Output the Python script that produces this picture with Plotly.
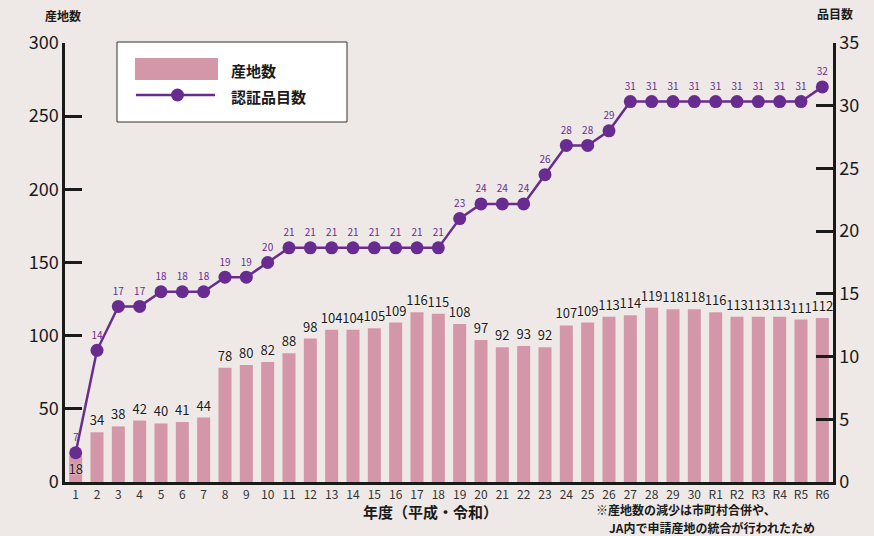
import plotly.graph_objects as go

categories = [str(i) for i in range(1, 31)] + ["R1", "R2", "R3", "R4", "R5", "R6"]
sanchi = [18, 34, 38, 42, 40, 41, 44, 78, 80, 82, 88, 98, 104, 104, 105, 109, 116, 115,
          108, 97, 92, 93, 92, 107, 109, 113, 114, 119, 118, 118, 116, 113, 113, 113, 111, 112]
hinmoku = [7, 14, 17, 17, 18, 18, 18, 19, 19, 20, 21, 21, 21, 21, 21, 21, 21, 21,
           23, 24, 24, 24, 26, 28, 28, 29, 31, 31, 31, 31, 31, 31, 31, 31, 31, 32]
left_ticks = [0, 50, 100, 150, 200, 250, 300]
right_ticks = [0, 5, 10, 15, 20, 25, 30, 35]

FONT = "Noto Sans CJK JP"
BAR_COLOR = "#d497aa"
LINE_COLOR = "#682c91"
BG = "#eee9e6"

fig = go.Figure()

fig.add_trace(go.Bar(
    x=categories, y=sanchi, name="産地数",
    marker=dict(color=BAR_COLOR, line=dict(width=0)),
    text=[str(v) for v in sanchi],
    textposition=["inside"] + ["outside"] * (len(sanchi) - 1),
    insidetextanchor="middle",
    constraintext="none",
    cliponaxis=False,
    textfont=dict(family=FONT, size=13, color="#1a1a1a", shadow="0px 0px 2px white"),
    textangle=0,
    yaxis="y",
))

fig.add_trace(go.Scatter(
    x=categories, y=hinmoku, name="認証品目数",
    mode="lines+markers+text",
    line=dict(color=LINE_COLOR, width=2.5),
    marker=dict(color=LINE_COLOR, size=13),
    text=[str(v) for v in hinmoku],
    textposition="top center",
    textfont=dict(family=FONT, size=10, color=LINE_COLOR),
    cliponaxis=False,
    yaxis="y3",
))

axis_common = dict(
    showgrid=False, zeroline=False, showline=True, linecolor="#1a1a1a", linewidth=2.5,
    ticks="inside", ticklen=17, tickwidth=2.5, tickcolor="#1a1a1a",
    tickfont=dict(family=FONT, size=18, color="#1a1a1a"),
)

fig.update_layout(
    width=874, height=536,
    margin=dict(l=65, r=41, t=43, b=54),
    paper_bgcolor=BG, plot_bgcolor=BG,
    showlegend=False,
    bargap=0.39,
    xaxis=dict(
        type="category", range=[-0.5, 35.5],
        showgrid=False, zeroline=False, showline=True, linecolor="#1a1a1a", linewidth=2.5,
        ticks="", tickfont=dict(family=FONT, size=12, color="#333333"),
        tickangle=0,
    ),
    yaxis=dict(range=[0, 300], tickvals=left_ticks, **axis_common),
    yaxis2=dict(range=[0, 35], tickvals=right_ticks, overlaying="y", side="right", **axis_common),
    yaxis3=dict(range=[5, 35], overlaying="y", visible=False),
)
# invisible trace so the right axis is drawn
fig.add_trace(go.Scatter(x=[categories[0]], y=[0], yaxis="y2", mode="markers",
                         marker=dict(opacity=0), hoverinfo="skip", showlegend=False))


def px(x):
    return (x - 65) / 768


def py(y):
    return (482 - y) / 439


ann = [
    dict(text="産地数", x=63, y=15),
    dict(text="品目数", x=835, y=14),
    dict(text="年度（平成・令和）", x=430, y=512, size=15),
]
for a in ann:
    fig.add_annotation(text=a["text"], xref="paper", yref="paper",
                       x=px(a["x"]), y=py(a["y"]),
                       xanchor="center", yanchor="middle", showarrow=False,
                       font=dict(family=FONT, size=a.get("size", 12), color="#1a1a1a", weight="bold"))

for txt, x, y in [("※産地数の減少は市町村合併や、", 595, 509.5), ("JA内で申請産地の統合が行われたため", 608, 527.3)]:
    fig.add_annotation(text=txt, xref="paper", yref="paper",
                       x=px(x), y=py(y), borderpad=0,
                       xanchor="left", yanchor="middle", showarrow=False,
                       font=dict(family=FONT, size=12, color="#1a1a1a", weight="bold"))

# legend box
fig.add_shape(type="rect", xref="paper", yref="paper", x0=px(117), x1=px(347), y0=py(122), y1=py(42),
              fillcolor="white", line=dict(color="#333333", width=1))
fig.add_shape(type="rect", xref="paper", yref="paper", x0=px(135), x1=px(218), y0=py(80), y1=py(58),
              fillcolor=BAR_COLOR, line=dict(width=0))
fig.add_shape(type="line", xref="paper", yref="paper", x0=px(136), x1=px(215), y0=py(95), y1=py(95),
              line=dict(color=LINE_COLOR, width=2.5))
fig.add_shape(type="circle", xref="paper", yref="paper", x0=px(171), x1=px(184), y0=py(101.5), y1=py(88.5),
              fillcolor=LINE_COLOR, line=dict(width=0))
for txt, y in [("産地数", 70), ("認証品目数", 96)]:
    fig.add_annotation(text=txt, xref="paper", yref="paper", x=px(229), y=py(y),
                       xanchor="left", yanchor="middle", showarrow=False,
                       font=dict(family=FONT, size=15, color="#1a1a1a", weight="bold"))

fig.write_html("out.html", config={"displayModeBar": False},
               post_script="document.body.style.margin='0';")
